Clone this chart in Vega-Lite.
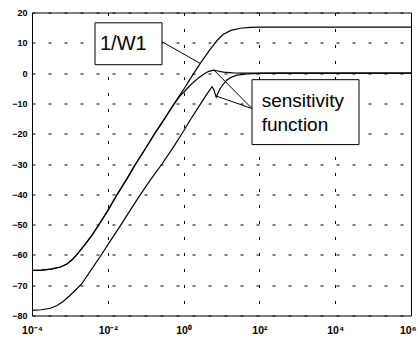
{
  "$schema": "https://vega.github.io/schema/vega-lite/v6.json",
  "width": 379,
  "height": 303,
  "autosize": "none",
  "padding": {"left": 32, "top": 12.5, "right": 7, "bottom": 25.5},
  "background": "white",
  "config": {
    "view": {"stroke": "black", "strokeWidth": 1},
    "axis": {
      "domain": false,
      "ticks": false,
      "grid": true,
      "gridColor": "black",
      "gridOpacity": 1,
      "gridWidth": 1,
      "gridDash": [3, 13],
      "labelColor": "black",
      "labelFont": "Liberation Sans",
      "labelFontSize": 9,
      "labelFontWeight": "bold",
      "title": null
    }
  },
  "encoding": {
    "x": {
      "field": "w",
      "type": "quantitative",
      "scale": {"type": "log", "domain": [0.0001, 1000000], "nice": false},
      "axis": {
        "values": [0.0001, 0.01, 1, 100, 10000, 1000000],
        "labelExpr": "datum.value < 0.001 ? '10⁻⁴' : datum.value < 0.1 ? '10⁻²' : datum.value < 10 ? '10⁰' : datum.value < 1000 ? '10²' : datum.value < 100000 ? '10⁴' : '10⁶'",
        "labelFlush": false,
        "labelOverlap": false,
        "labelBound": false,
        "labelAlign": {"condition": {"test": "datum.value > 100000", "value": "right"}, "value": "center"},
        "labelOffset": {"condition": {"test": "datum.value > 100000", "value": 5}, "value": 0},
        "labelPadding": 10,
        "labelFontSize": 10.5,
        "title": null
      }
    },
    "y": {
      "field": "dB",
      "type": "quantitative",
      "scale": {"domain": [-80, 20], "nice": false, "zero": false},
      "axis": {
        "values": [-80, -70, -60, -50, -40, -30, -20, -10, 0, 10, 20],
        "labelPadding": 5,
        "title": null
      }
    }
  },
  "layer": [
    {
      "data": {
        "values": [
          {"series": "1/W1", "w": 0.0001, "dB": -65.1},
          {"series": "1/W1", "w": 0.000178, "dB": -65.0},
          {"series": "1/W1", "w": 0.000316, "dB": -64.7},
          {"series": "1/W1", "w": 0.000562, "dB": -64.0},
          {"series": "1/W1", "w": 0.000832, "dB": -63.0},
          {"series": "1/W1", "w": 0.00112, "dB": -61.7},
          {"series": "1/W1", "w": 0.00151, "dB": -60.0},
          {"series": "1/W1", "w": 0.00251, "dB": -56.5},
          {"series": "1/W1", "w": 0.00398, "dB": -53.2},
          {"series": "1/W1", "w": 0.00562, "dB": -50.3},
          {"series": "1/W1", "w": 0.01, "dB": -45.4},
          {"series": "1/W1", "w": 0.0166, "dB": -40.6},
          {"series": "1/W1", "w": 0.0316, "dB": -35.0},
          {"series": "1/W1", "w": 0.0525, "dB": -30.3},
          {"series": "1/W1", "w": 0.1, "dB": -24.8},
          {"series": "1/W1", "w": 0.166, "dB": -20.3},
          {"series": "1/W1", "w": 0.316, "dB": -15.0},
          {"series": "1/W1", "w": 0.537, "dB": -10.5},
          {"series": "1/W1", "w": 1, "dB": -5.4},
          {"series": "1/W1", "w": 1.585, "dB": -1.4},
          {"series": "1/W1", "w": 2.754, "dB": 3.2},
          {"series": "1/W1", "w": 5.012, "dB": 7.8},
          {"series": "1/W1", "w": 7.943, "dB": 11.0},
          {"series": "1/W1", "w": 11.22, "dB": 12.8},
          {"series": "1/W1", "w": 17.78, "dB": 14.1},
          {"series": "1/W1", "w": 31.62, "dB": 14.8},
          {"series": "1/W1", "w": 56.23, "dB": 15.1},
          {"series": "1/W1", "w": 100, "dB": 15.2},
          {"series": "1/W1", "w": 1000, "dB": 15.2},
          {"series": "1/W1", "w": 10000, "dB": 15.2},
          {"series": "1/W1", "w": 100000, "dB": 15.2},
          {"series": "1/W1", "w": 1000000, "dB": 15.2},

          {"series": "S1", "w": 0.0001, "dB": -65.1},
          {"series": "S1", "w": 0.000178, "dB": -65.0},
          {"series": "S1", "w": 0.000316, "dB": -64.7},
          {"series": "S1", "w": 0.000562, "dB": -64.0},
          {"series": "S1", "w": 0.000832, "dB": -63.0},
          {"series": "S1", "w": 0.00112, "dB": -61.7},
          {"series": "S1", "w": 0.00151, "dB": -60.0},
          {"series": "S1", "w": 0.00251, "dB": -56.5},
          {"series": "S1", "w": 0.00398, "dB": -53.2},
          {"series": "S1", "w": 0.00562, "dB": -50.3},
          {"series": "S1", "w": 0.01, "dB": -45.4},
          {"series": "S1", "w": 0.0166, "dB": -40.6},
          {"series": "S1", "w": 0.0316, "dB": -35.0},
          {"series": "S1", "w": 0.0525, "dB": -30.3},
          {"series": "S1", "w": 0.1, "dB": -24.8},
          {"series": "S1", "w": 0.166, "dB": -20.3},
          {"series": "S1", "w": 0.316, "dB": -15.0},
          {"series": "S1", "w": 0.537, "dB": -10.6},
          {"series": "S1", "w": 0.794, "dB": -7.6},
          {"series": "S1", "w": 1, "dB": -6.4},
          {"series": "S1", "w": 1.349, "dB": -4.6},
          {"series": "S1", "w": 1.82, "dB": -3.0},
          {"series": "S1", "w": 2.512, "dB": -1.5},
          {"series": "S1", "w": 3.388, "dB": -0.4},
          {"series": "S1", "w": 4.467, "dB": 0.5},
          {"series": "S1", "w": 6.166, "dB": 1.0},
          {"series": "S1", "w": 7.943, "dB": 0.7},
          {"series": "S1", "w": 11.22, "dB": 0.3},
          {"series": "S1", "w": 19.95, "dB": 0.05},
          {"series": "S1", "w": 39.81, "dB": 0},
          {"series": "S1", "w": 100, "dB": 0},
          {"series": "S1", "w": 1000, "dB": 0},
          {"series": "S1", "w": 10000, "dB": 0},
          {"series": "S1", "w": 100000, "dB": 0},
          {"series": "S1", "w": 1000000, "dB": 0},

          {"series": "S2", "w": 0.0001, "dB": -78.3},
          {"series": "S2", "w": 0.000178, "dB": -78.1},
          {"series": "S2", "w": 0.000302, "dB": -77.6},
          {"series": "S2", "w": 0.000447, "dB": -76.8},
          {"series": "S2", "w": 0.000676, "dB": -75.3},
          {"series": "S2", "w": 0.001, "dB": -73.4},
          {"series": "S2", "w": 0.001413, "dB": -71.6},
          {"series": "S2", "w": 0.002042, "dB": -69.6},
          {"series": "S2", "w": 0.003715, "dB": -64.8},
          {"series": "S2", "w": 0.006918, "dB": -59.8},
          {"series": "S2", "w": 0.01202, "dB": -55.1},
          {"series": "S2", "w": 0.02089, "dB": -50.6},
          {"series": "S2", "w": 0.06457, "dB": -41.0},
          {"series": "S2", "w": 0.1318, "dB": -35.3},
          {"series": "S2", "w": 0.2692, "dB": -30.0},
          {"series": "S2", "w": 0.5012, "dB": -25.0},
          {"series": "S2", "w": 0.9016, "dB": -20.0},
          {"series": "S2", "w": 1.585, "dB": -15.0},
          {"series": "S2", "w": 2.754, "dB": -10.3},
          {"series": "S2", "w": 3.981, "dB": -7.2},
          {"series": "S2", "w": 5.623, "dB": -4.5},
          {"series": "S2", "w": 6.31, "dB": -5.5},
          {"series": "S2", "w": 7.244, "dB": -8.0},
          {"series": "S2", "w": 8.318, "dB": -6.2},
          {"series": "S2", "w": 9.333, "dB": -5.0},
          {"series": "S2", "w": 11.22, "dB": -3.6},
          {"series": "S2", "w": 13.8, "dB": -2.3},
          {"series": "S2", "w": 18.62, "dB": -1.3},
          {"series": "S2", "w": 25.7, "dB": -0.65},
          {"series": "S2", "w": 46.77, "dB": -0.3},
          {"series": "S2", "w": 100, "dB": -0.1},
          {"series": "S2", "w": 316.2, "dB": 0},
          {"series": "S2", "w": 1000, "dB": 0},
          {"series": "S2", "w": 10000, "dB": 0},
          {"series": "S2", "w": 100000, "dB": 0},
          {"series": "S2", "w": 1000000, "dB": 0}
        ]
      },
      "mark": {"type": "line", "color": "black", "strokeWidth": 1.2, "clip": true},
      "encoding": {"detail": {"field": "series", "type": "nominal"}}
    },
    {
      "data": {
        "values": [
          {"w": 0.2692, "dB": 10.35, "w2": 2.754, "dB2": 3.2},
          {"w": 63.8, "dB": -11.7, "w2": 6.31, "dB2": 1.0},
          {"w": 63.8, "dB": -11.7, "w2": 7.4, "dB2": -7.6}
        ]
      },
      "mark": {"type": "rule", "color": "black", "strokeWidth": 1},
      "encoding": {
        "x2": {"field": "w2"},
        "y2": {"field": "dB2"}
      }
    },
    {
      "data": {
        "values": [
          {"w": 0.004592, "w2": 0.2692, "dB": 16.6, "dB2": 2.77},
          {"w": 63.8, "w2": 42460, "dB": -2.17, "dB2": -23.6}
        ]
      },
      "mark": {"type": "rect", "fill": "white", "stroke": "black", "strokeWidth": 1},
      "encoding": {
        "x2": {"field": "w2"},
        "y2": {"field": "dB2"}
      }
    },
    {
      "data": {
        "values": [
          {"label": "1/W1", "w": 0.00622, "dB": 7.7}
        ]
      },
      "mark": {"type": "text", "align": "left", "baseline": "alphabetic", "font": "Liberation Sans", "fontSize": 20, "color": "black"},
      "encoding": {"text": {"field": "label"}}
    },
    {
      "data": {
        "values": [
          {"label": "sensitivity", "w": 115, "dB": -11.3},
          {"label": "function", "w": 115, "dB": -19.2}
        ]
      },
      "mark": {"type": "text", "align": "left", "baseline": "alphabetic", "font": "Liberation Sans", "fontSize": 19, "color": "black"},
      "encoding": {"text": {"field": "label"}}
    }
  ]
}
